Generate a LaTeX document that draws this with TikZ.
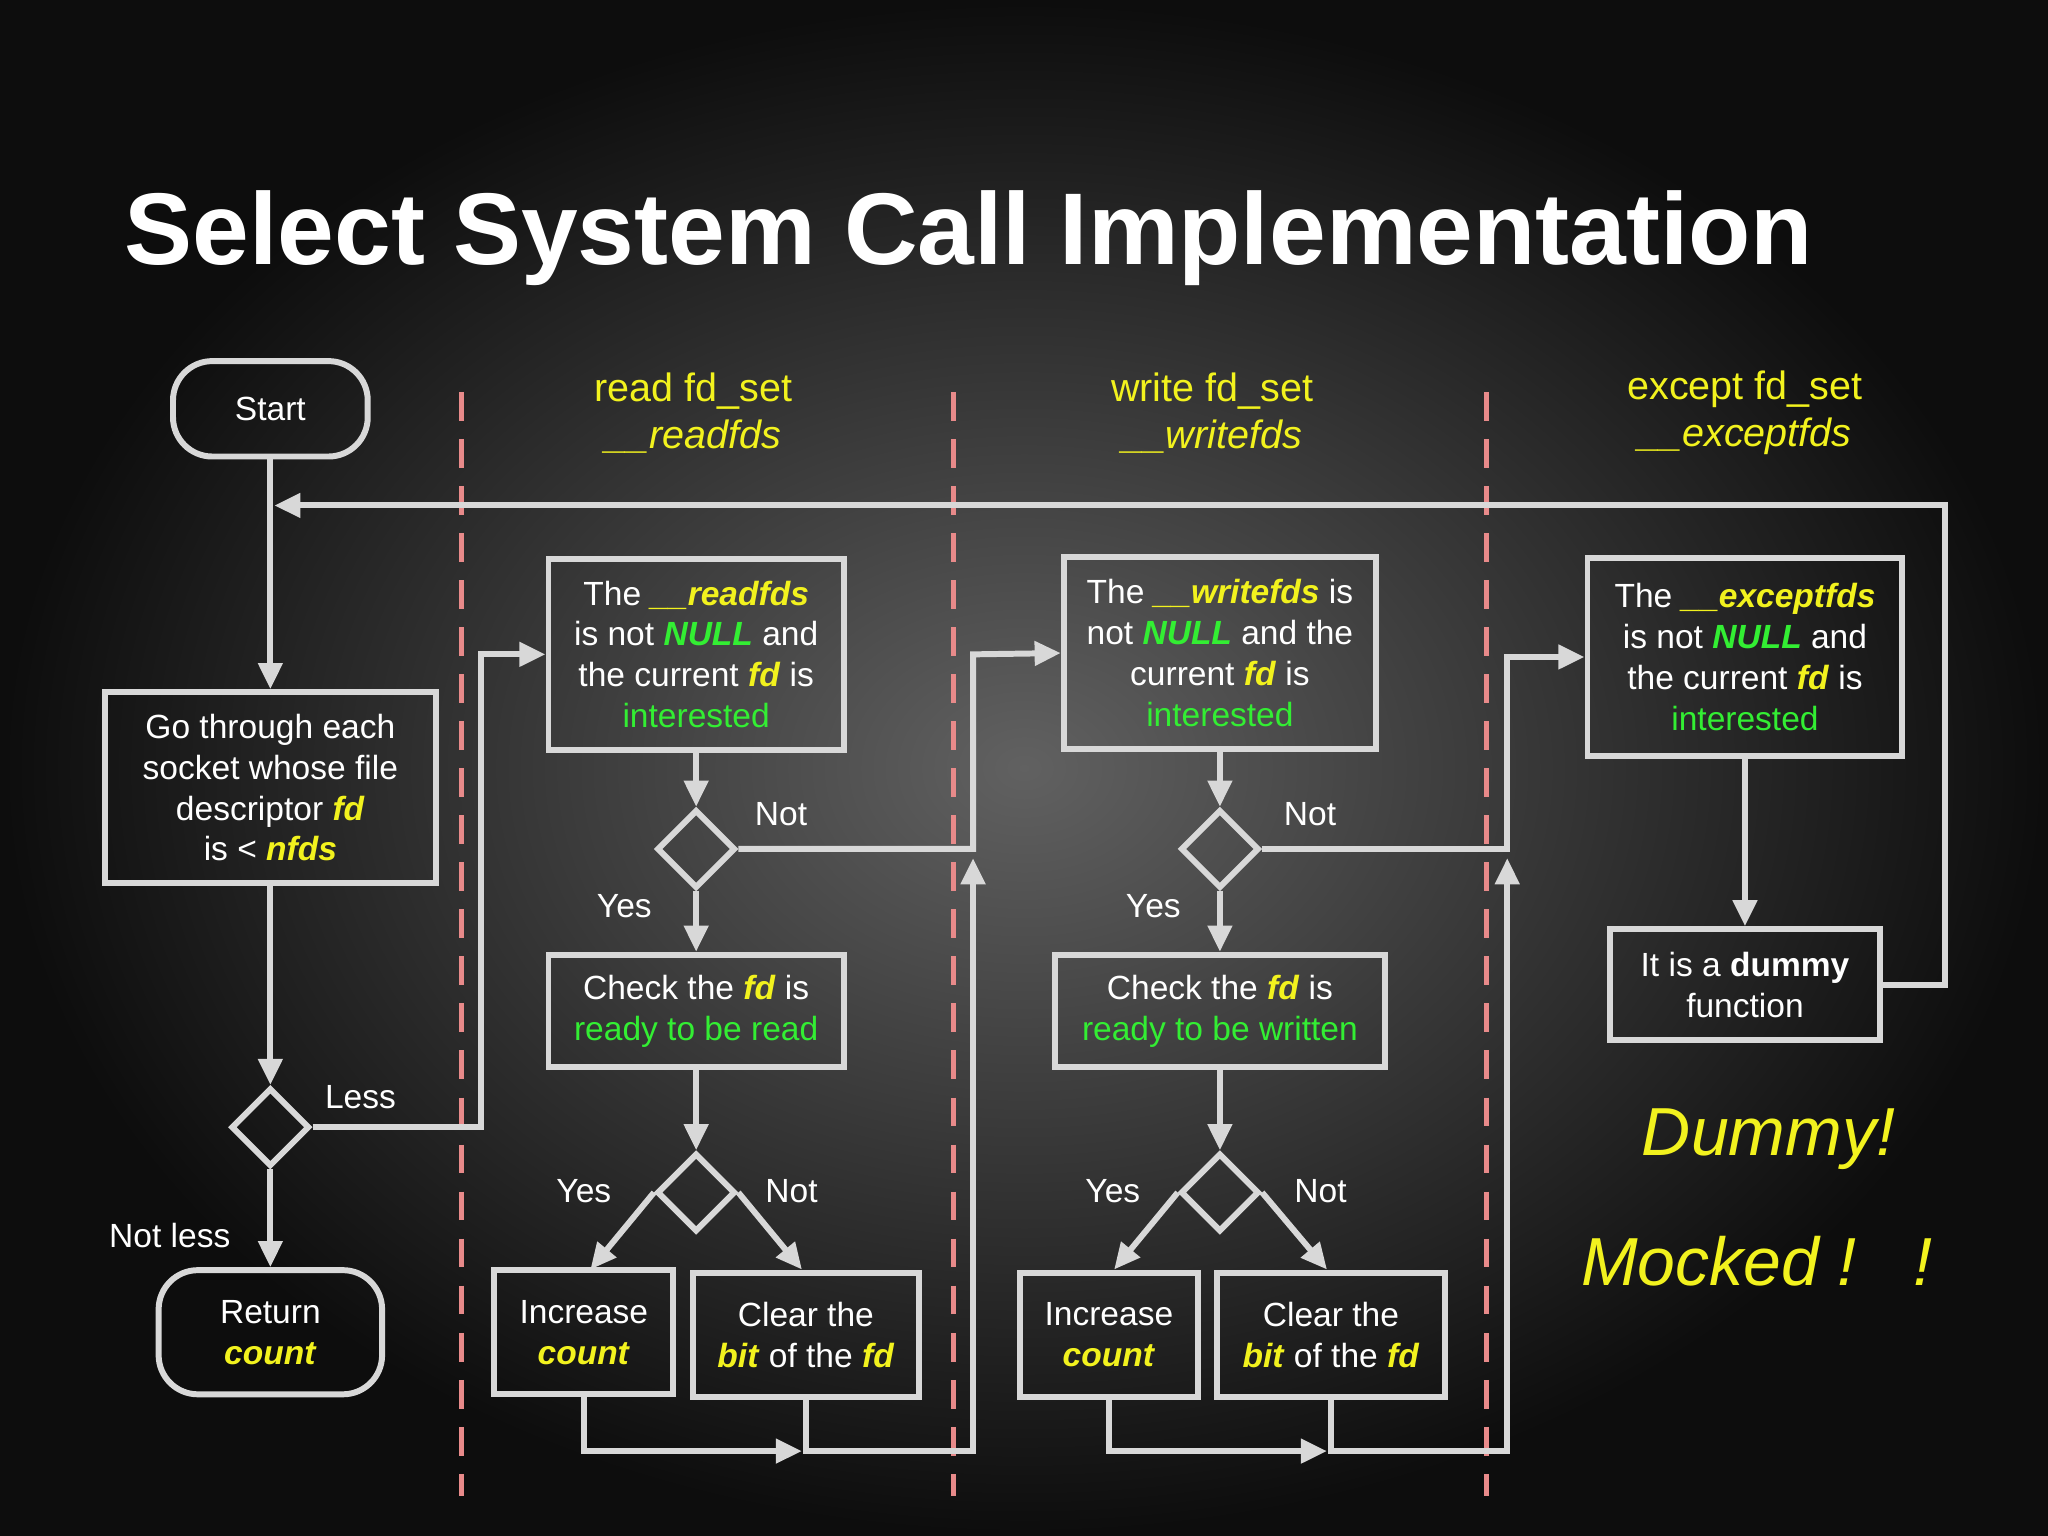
\documentclass[tikz,border=0pt]{standalone}
\usepackage{fontspec}
\setmainfont{Liberation Sans}
\usetikzlibrary{shapes.geometric,arrows.meta}
\definecolor{ln}{HTML}{D8D8D8}
\definecolor{yl}{HTML}{F2F21E}
\definecolor{gr}{HTML}{33EE33}
\definecolor{pk}{HTML}{E88A8A}
\newcommand{\Y}[1]{\textcolor{yl}{\textbf{\textit{#1}}}}
\newcommand{\G}[1]{\textcolor{gr}{#1}}
\newcommand{\GB}[1]{\textcolor{gr}{\textbf{\textit{#1}}}}
\tikzset{
  box/.style n args={2}{draw=ln, line width=1.3pt, text=white, align=center,
    minimum width=#1mm, minimum height=#2mm, inner sep=0pt,
    font=\fontsize{7.3}{8.9}\selectfont},
  term/.style n args={2}{box={#1}{#2}, rounded corners=3mm},
  dec/.style={draw=ln, line width=1.3pt, diamond, minimum width=6mm, minimum height=6mm, inner sep=0pt},
  lbl/.style={text=white, font=\fontsize{7.3}{8.9}\selectfont},
  hdr/.style={text=yl, align=center, font=\fontsize{8.6}{10.2}\selectfont},
  con/.style={draw=ln, line width=1.3pt},
  arr/.style={con, -{Triangle[length=2mm,width=1.8mm]}},
  sep/.style={draw=pk, line width=1.1pt, dash pattern=on 2.2mm off 1.4mm},
}
\begin{document}
\begin{tikzpicture}[x=0.01cm,y=-0.01cm]
\shade[inner color=black!62!white, outer color=black!95!white] (0,0) rectangle (1568,1176);
\useasboundingbox (0,0) rectangle (1568,1176);

\node[text=white, anchor=west, font=\fontsize{22.2}{26}\bfseries] (title) at (83,182) {Select System Call Implementation};

% separators
\draw[sep] (353,300) -- (353,1145);
\draw[sep] (730,300) -- (730,1145);
\draw[sep] (1138,300) -- (1138,1145);

\node[hdr] (h1) at (531,316) {read fd\_set\\\textit{\_\_readfds}};
\node[hdr] (h2) at (928,316) {write fd\_set\\\textit{\_\_writefds}};
\node[hdr] (h3) at (1336,316) {except fd\_set\\\textit{\_\_exceptfds}};

% left column
\node[term={14.9}{7.3}] (start) at (207,313) {Start};
\node[box={25.3}{14.6}] (go) at (207,603) {Go through each\\socket whose file\\descriptor \Y{fd}\\is < \Y{nfds}};
\node[dec] (d0) at (207,863) {};
\node[term={17.1}{9.5}] (ret) at (207,1020) {Return\\\Y{count}};

% read column
\node[box={22.6}{14.6}] (rb) at (533,501) {The \Y{\_\_readfds}\\is not \GB{NULL} and\\the current \Y{fd} is\\\G{interested}};
\node[dec] (rd1) at (533,650) {};
\node[box={22.6}{8.6}] (rc) at (533,774) {Check the \Y{fd} is\\\G{ready to be read}};
\node[dec] (rd2) at (533,913) {};
\node[box={13.7}{9.5}] (ri) at (447,1020) {Increase\\\Y{count}};
\node[box={17.3}{9.5}] (rk) at (617,1022) {Clear the\\\Y{bit} of the \Y{fd}};

% write column
\node[box={23.9}{14.7}] (wb) at (934,500) {The \Y{\_\_writefds} is\\not \GB{NULL} and the\\current \Y{fd} is\\\G{interested}};
\node[dec] (wd1) at (934,650) {};
\node[box={25.3}{8.6}] (wc) at (934,774) {Check the \Y{fd} is\\\G{ready to be written}};
\node[dec] (wd2) at (934,913) {};
\node[box={13.6}{9.5}] (wi) at (849,1022) {Increase\\\Y{count}};
\node[box={17.4}{9.5}] (wk) at (1019,1022) {Clear the\\\Y{bit} of the \Y{fd}};

% except column
\node[box={24.1}{15.1}] (eb) at (1336,503) {The \Y{\_\_exceptfds}\\is not \GB{NULL} and\\the current \Y{fd} is\\\G{interested}};
\node[box={20.6}{8.5}] (ed) at (1336,754) {It is a \textbf{dummy}\\function};

\node[text=yl, font=\fontsize{14.8}{18}\itshape] (dm) at (1354,872) {Dummy!};
\node[text=yl, font=\fontsize{14.8}{18}\itshape] (mk) at (1345,966) {Mocked !\ \ \ !};

% labels
\node[lbl] (lless) at (276,840) {Less};
\node[lbl] (lnl) at (130,946) {Not less};
\node[lbl] (ry1) at (478,694) {Yes};
\node[lbl] (rn1) at (598,623) {Not};
\node[lbl] (ry2) at (447,912) {Yes};
\node[lbl] (rn2) at (606,912) {Not};
\node[lbl] (wy1) at (883,694) {Yes};
\node[lbl] (wn1) at (1003,623) {Not};
\node[lbl] (wy2) at (852,912) {Yes};
\node[lbl] (wn2) at (1011,912) {Not};

% coordinates
\coordinate (loopin) at (210,387);
\coordinate (rup) at (745,657);
\coordinate (wup) at (1154,657);
\coordinate (rm) at (614,1111);
\coordinate (wm) at (1016,1111);

% left connectors
\draw[arr] (start) -- (go);
\draw[arr] (go) -- (d0);
\draw[arr] (d0) -- (ret);
\draw[arr] (d0.east) -- (368,863) -- (368,501) -- (rb.west);
\draw[arr] (ed.east) -- (1489,754) -- (1489,387) -- (loopin);

% read connectors
\draw[arr] (rb) -- (rd1);
\draw[arr] (rd1) -- (rc);
\draw[arr] (rc) -- (rd2);
\draw[arr] (rd2.west) -- (452,972);
\draw[arr] (rd2.east) -- (614,972);
\draw[arr] (ri.south) -- (447,1111) -- (rm);
\draw[arr] (rk.south) -- (617,1111) -- (745,1111) -- (rup);
\draw[arr] (rd1.east) -- (745,650) -- (745,501) -- (wb.west);

% write connectors
\draw[arr] (wb) -- (wd1);
\draw[arr] (wd1) -- (wc);
\draw[arr] (wc) -- (wd2);
\draw[arr] (wd2.west) -- (853,972);
\draw[arr] (wd2.east) -- (1016,972);
\draw[arr] (wi.south) -- (849,1111) -- (wm);
\draw[arr] (wk.south) -- (1019,1111) -- (1154,1111) -- (wup);
\draw[arr] (wd1.east) -- (1154,650) -- (1154,503) -- (eb.west);

% except connectors
\draw[arr] (eb) -- (ed);
\end{tikzpicture}
\end{document}
